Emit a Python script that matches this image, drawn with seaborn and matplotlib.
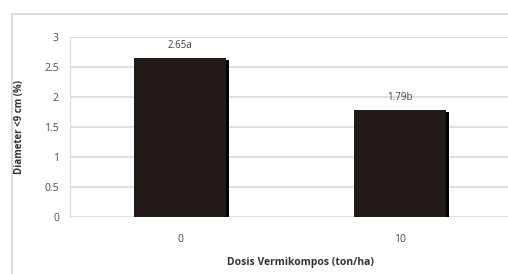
import pandas as pd
import seaborn as sns
from matplotlib import pyplot as plt
from matplotlib import patheffects as pe
from matplotlib.patches import Rectangle

# data
dosis = ["0", "10"]
diameter = [2.65, 1.79]
notasi = ["2.65a", "1.79b"]

sns.set_style("white")
plt.rcParams['font.family'] = ['Open Sans', 'DejaVu Sans']

df = pd.DataFrame({"dosis": dosis, "diameter": diameter})

fig = plt.figure(figsize=(5.08, 2.74), dpi=100)
# outer chart frame
fig.add_artist(Rectangle((12 / 508, -0.2), 1.2, 260 / 274 + 0.2,
                         transform=fig.transFigure, fill=False,
                         edgecolor="#d4d4d4", lw=1.2))
ax = fig.add_axes([70 / 508, 57 / 274, 440 / 508, 180 / 274])

sns.barplot(data=df, x="dosis", y="diameter", color="#221a17",
            width=0.42, saturation=1, linewidth=0, ax=ax, zorder=3)
for p in ax.patches:
    p.set_linewidth(0)
    p.set_path_effects([pe.SimplePatchShadow(offset=(2, -1.5),
                                             shadow_rgbFace="black", alpha=1),
                        pe.Normal()])

for i, t in enumerate(notasi):
    ax.annotate(t, (i, diameter[i]), xytext=(0, 5), textcoords="offset points",
                ha="center", va="bottom", fontsize=7, color="#404040")

ax.set_ylim(0, 3)
ax.set_xlim(-0.5, 1.5)
ax.set_yticks([0, 0.5, 1, 1.5, 2, 2.5, 3])
ax.set_yticklabels(["0", "0.5", "1", "1.5", "2", "2.5", "3"])
ax.yaxis.grid(True, color="#d9d9d9", lw=1.2, zorder=0)
ax.set_axisbelow(True)
for s in ["top", "right", "bottom"]:
    ax.spines[s].set_visible(False)
ax.spines["left"].set_color("#d9d9d9")
ax.tick_params(axis="both", length=0, labelsize=7.5, colors="#4a4a4a", pad=8)
ax.tick_params(axis="x", pad=12)

ax.set_xlabel("Dosis Vermikompos (ton/ha)", fontsize=7.5, fontweight="bold",
              color="#333333")
ax.xaxis.set_label_coords((300 - 70) / 440, -40 / 180)
ax.set_ylabel("Diameter <9 cm (%)", fontsize=7, fontweight="bold",
              color="#333333")
ax.yaxis.set_label_coords(-45 / 440, 0.5)

plt.savefig("out.png", dpi=100)
